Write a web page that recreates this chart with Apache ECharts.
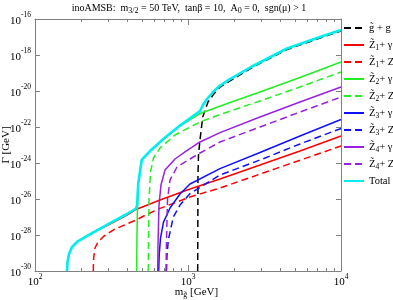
<!DOCTYPE html>
<html><head><meta charset="utf-8">
<script src="https://cdn.jsdelivr.net/npm/echarts@6/dist/echarts.min.js"></script>
<style>html,body{margin:0;padding:0;background:#fff}#c{width:393px;height:300px}</style>
</head><body><div id="c"></div>
<script>
// Tick values
const xMajorTicks = [100, 1000, 10000];
const xMinorTicks = [200,300,400,500,600,700,800,900,2000,3000,4000,5000,6000,7000,8000,9000];
const yMajorTicks = [1e-30,1e-28,1e-26,1e-24,1e-22,1e-20,1e-18,1e-16];

// Series data: gluino mass (GeV) and partial widths (GeV)
const mGG   = [1157,1162,1171,1198,1248,1351,1457,1619,2659,4437,7291,10000];
const wGG   = [1e-30,2.15e-25,2.8e-24,1.9e-23,3.6e-22,2.45e-21,6.0e-21,1.67e-20,2.15e-19,2.0e-18,8.8e-18,2.15e-17];

const mZ1g  = [161.9,163.1,166.8,174.5,188.2,212.3,239.4,309.2,399.3,457.3,656.2,1031,1619,2955,5395,10000];
const wZ1g  = [1e-30,3.16e-30,8.8e-30,2.15e-29,4.1e-29,7.7e-29,1.37e-28,4.1e-28,1.29e-27,2.63e-27,8.8e-27,3.6e-26,1.29e-25,7.7e-25,4.6e-24,3.16e-23];

const mZ1Z  = [240.5,241.6,246.7,258.1,282.5,333.4,457.3,548,656.2,1031,1619,10000];
const wZ1Z  = [1e-30,5.2e-30,1.9e-29,4.1e-29,8.8e-29,2.15e-28,6.8e-28,1.5e-27,3.0e-27,1.29e-26,4.1e-26,8.8e-24];

const mZ2g  = [462.1,463.5,466.3,473.3,498.2,564.4,707.5,886.6,1198,1882,2955,5395,10000];
const wZ2g  = [1e-30,5.2e-29,1.29e-27,7.7e-26,1.47e-24,4.6e-24,2.45e-23,1.14e-22,5.6e-22,2.3e-21,8.8e-21,5.6e-20,4.1e-19];

const mZ2Z  = [550.4,551.9,556.0,568.7,595.0,656.2,822.4,1198,1619,2955,5395,10000];
const wZ2Z  = [1e-30,5.2e-29,8.8e-27,3.16e-25,1.9e-24,6.8e-24,3.6e-23,1.9e-22,4.9e-22,2.8e-21,1.67e-20,1.14e-19];

const mZ3g  = [643.5,648.4,661.1,691.6,762.6,886.6,1031,1619,2955,5395,10000];
const wZ3g  = [1e-30,7.7e-30,6.8e-29,5.2e-28,3.16e-27,1.9e-26,6.8e-26,4.9e-25,3.8e-24,3.16e-23,2.63e-22];

const mZ3Z  = [723.6,729.1,743.5,801.5,886.6,1031,1619,2955,5395,10000];
const wZ3Z  = [1e-30,7.7e-30,5.2e-29,1e-27,4.6e-27,2.0e-26,2.15e-25,1.47e-24,1.14e-23,8.3e-23];

const mZ4g  = [633.9,636.6,646.2,665.9,707.5,822.4,955.6,1198,1619,2955,5395,10000];
const wZ4g  = [1e-30,2.8e-29,4.6e-27,6.0e-26,4.1e-25,1.67e-24,4.1e-24,1.47e-23,4.9e-23,3.6e-22,2.45e-21,1.67e-20];

const mZ4Z  = [718.2,723.6,734.5,762.6,847.6,1031,1198,1619,2955,5395,10000];
const wZ4Z  = [1e-30,5.2e-29,8.8e-27,1.14e-25,6.0e-25,1.67e-24,3.6e-24,1.47e-23,1e-22,6.8e-22,4.6e-21];

const mTot  = [161.9,163.1,166.8,174.5,188.2,212.3,239.4,309.2,399.3,457.3,465.0,468.5,473.3,498.2,564.4,707.5,886.6,1198,1253,1331,1457,1619,1882,2659,4437,7291,10000];
const wTot  = [1e-30,3.16e-30,8.8e-30,2.15e-29,4.1e-29,7.7e-29,1.37e-28,4.6e-28,1.47e-27,2.97e-27,4.6e-27,1.67e-26,7.7e-26,1.47e-24,4.6e-24,2.6e-23,1.2e-22,7.7e-22,1.67e-21,3.6e-21,8.8e-21,2.0e-20,4.6e-20,2.45e-19,2.3e-18,1e-17,2.45e-17];

const seriesDefs = [
  {name:'gg',    m:mGG,  w:wGG,  color:'#000000', dash:true},
  {name:'Z1g',   m:mZ1g, w:wZ1g, color:'#ff0000', dash:false},
  {name:'Z1Z',   m:mZ1Z, w:wZ1Z, color:'#ff0000', dash:true},
  {name:'Z2g',   m:mZ2g, w:wZ2g, color:'#22ee22', dash:false},
  {name:'Z2Z',   m:mZ2Z, w:wZ2Z, color:'#22ee22', dash:true},
  {name:'Z3g',   m:mZ3g, w:wZ3g, color:'#1010ff', dash:false},
  {name:'Z3Z',   m:mZ3Z, w:wZ3Z, color:'#1010ff', dash:true},
  {name:'Z4g',   m:mZ4g, w:wZ4g, color:'#9922dd', dash:false},
  {name:'Z4Z',   m:mZ4Z, w:wZ4Z, color:'#9922dd', dash:true},
  {name:'Total', m:mTot, w:wTot, color:'#00eeee', dash:false, width:2.6}
];
const legendText = {
  gg:'g\u0303 + g', Z1g:'Z\u0303{s|1}+ \u03b3', Z1Z:'Z\u0303{s|1}+ Z', Z2g:'Z\u0303{s|2}+ \u03b3', Z2Z:'Z\u0303{s|2}+ Z',
  Z3g:'Z\u0303{s|3}+ \u03b3', Z3Z:'Z\u0303{s|3}+ Z', Z4g:'Z\u0303{s|4}+ \u03b3', Z4Z:'Z\u0303{s|4}+ Z', Total:'Total'
};

const FONT = 'Liberation Serif';
const axisGray = '#808080';
const supRich = {
  b:{fontFamily:FONT,fontSize:11,lineHeight:15,color:'#000',verticalAlign:'bottom'},
  s:{fontFamily:FONT,fontSize:7.5,lineHeight:8,color:'#000',verticalAlign:'top'}
};
function powLabel(v){ return '{b|10}{s|' + Math.round(Math.log10(v)) + '}'; }

const chart = echarts.init(document.getElementById('c'), null, {renderer:'canvas'});
const grid = {left:35, right:52, top:19, bottom:29, containLabel:false, outerBoundsMode:'none'};
function xAx(pos, ticks, len, labels){
  return {type:'log', logBase:10, min:100, max:10000, position:pos, gridIndex:0,
    axisLine:{show: labels, onZero:false, lineStyle:{color:axisGray, width:1}},
    axisTick:{show:true, inside:true, length:len, customValues:ticks, lineStyle:{color:axisGray}},
    axisLabel:{show:labels, customValues:ticks, formatter:powLabel, rich:supRich, margin:2},
    splitLine:{show:false}, minorTick:{show:false}};
}
function yAx(pos, labels){
  return {type:'log', logBase:10, min:1e-30, max:1e-16, position:pos, gridIndex:0,
    axisLine:{show:true, onZero:false, lineStyle:{color:axisGray, width:1}},
    axisTick:{show:true, inside:true, length:5, customValues:yMajorTicks, lineStyle:{color:axisGray}},
    axisLabel:{show:labels, customValues:yMajorTicks, formatter:powLabel, rich:supRich, margin:4},
    splitLine:{show:false}};
}
const xaTop = xAx('top', xMajorTicks, 6, false); xaTop.axisLine.show = true;
const subRich = {sub:{fontFamily:FONT,fontSize:8,lineHeight:8,verticalAlign:'bottom',color:'#000'}};

const option = {
  animation:false,
  backgroundColor:'#fff',
  title:{text:'inoAMSB:  m{sub|3/2} = 50 TeV,  tan\u03b2 = 10,  A{sub|0} = 0,  sgn(\u03bc) > 1',
    left:189, top:1, textAlign:'center', padding:0,
    textStyle:{fontFamily:FONT, fontSize:10, fontWeight:'normal', color:'#000', lineHeight:14, rich:subRich}},
  grid:grid,
  xAxis:[xAx('bottom', xMajorTicks, 6, true), xAx('bottom', xMinorTicks, 3, false), xaTop, xAx('top', xMinorTicks, 3, false)],
  yAxis:[yAx('left', true), yAx('right', false)],
  graphic:[
    {type:'text', left:'center', x:0, top:286, style:{text:'m{sub|g\u0303} [GeV]', fontFamily:FONT, fontSize:11, fill:'#000', lineHeight:13, rich:subRich}},
    {type:'text', x:1, y:145, rotation:Math.PI/2, style:{text:'\u0393 [GeV]', fontFamily:FONT, fontSize:11, fill:'#000', align:'center', verticalAlign:'top'}}
  ],
  legend:{orient:'vertical', left:343, top:21, padding:0, itemWidth:20, itemHeight:12, itemGap:3, itemTextGap:4,
    data:seriesDefs.map(d=>d.name),
    formatter:n=>legendText[n],
    itemStyle:{opacity:0},
    textStyle:{fontFamily:FONT, fontSize:10.5, color:'#000', lineHeight:14, rich:{s:{fontFamily:FONT,fontSize:7.5,lineHeight:8,verticalAlign:'bottom',color:'#000'}}}},
  series:seriesDefs.map(d=>({
    name:d.name, type:'line', xAxisIndex:0, yAxisIndex:0,
    data:d.m.map((x,i)=>[x, d.w[i]]),
    showSymbol:false, symbol:'none', smooth:false,
    clip:true,
    lineStyle:{color:d.color, width:d.width||1.5, type:d.dash?[7,4]:'solid'},
    itemStyle:{color:d.color}
  }))
};
chart.setOption(option);
</script></body></html>
